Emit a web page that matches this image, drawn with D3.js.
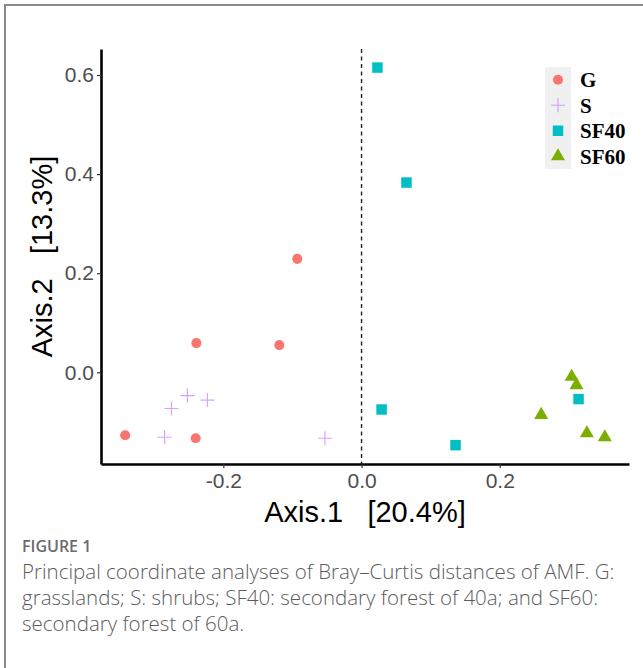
<!DOCTYPE html>
<html>
<head>
<meta charset="utf-8">
<script src="https://cdn.jsdelivr.net/npm/d3@7"></script>
<style>
  body { margin: 0; background: #fff; }
  text { white-space: pre; }
</style>
</head>
<body>
<svg id="chart" width="643" height="668"></svg>
<script>
// PCoA scores
var groups = ["G", "S", "SF40", "SF60"];
var colors = ["#F8766D", "#C77CFF", "#00BFC4", "#7CAE00"];

var axis1G = [-0.093, -0.239, -0.119, -0.342, -0.240];
var axis2G = [0.229, 0.059, 0.055, -0.127, -0.133];

var axis1S = [-0.252, -0.275, -0.223, -0.285, -0.053];
var axis2S = [-0.047, -0.073, -0.056, -0.131, -0.133];

var axis1SF40 = [0.023, 0.065, 0.029, 0.136, 0.314];
var axis2SF40 = [0.615, 0.383, -0.075, -0.147, -0.054];

var axis1SF60 = [0.304, 0.311, 0.260, 0.326, 0.352];
var axis2SF60 = [-0.009, -0.026, -0.086, -0.123, -0.131];

var xTicks = [-0.2, 0.0, 0.2];
var yTicks = [0.0, 0.2, 0.4, 0.6];

var xTitle = "Axis.1   [20.4%]";
var yTitle = "Axis.2   [13.3%]";
var captionHead = "FIGURE 1";
var captionLines = [
  "Principal coordinate analyses of Bray\u2013Curtis distances of AMF. G:",
  "grasslands; S: shrubs; SF40: secondary forest of 40a; and SF60:",
  "secondary forest of 60a."
];

var points = [];
[[axis1G, axis2G], [axis1S, axis2S], [axis1SF40, axis2SF40], [axis1SF60, axis2SF60]]
  .forEach(function (pair, gi) {
    pair[0].forEach(function (v, i) {
      points.push({ group: groups[gi], a1: v, a2: pair[1][i] });
    });
  });

var svg = d3.select("#chart");

// outer frame of the figure panel
svg.append("rect")
  .attr("x", 5).attr("y", 5)
  .attr("width", 700).attr("height", 720)
  .attr("fill", "none")
  .attr("stroke", "#8a8a8a")
  .attr("stroke-width", 2);

var margin = { top: 49, left: 101 },
  width = 528,
  height = 415;

var x = d3.scaleLinear().domain([-0.377, 0.387]).range([0, width]);
var y = d3.scaleLinear().domain([-0.185, 0.6525]).range([height, 0]);
var color = d3.scaleOrdinal().domain(groups).range(colors);

var g = svg.append("g")
  .attr("transform", "translate(" + margin.left + "," + margin.top + ")");

// dashed line at axis.1 = 0
g.append("line")
  .attr("x1", x(0)).attr("x2", x(0))
  .attr("y1", 0).attr("y2", height)
  .attr("stroke", "#222")
  .attr("stroke-width", 1.4)
  .attr("stroke-dasharray", "4,3.5");

// x axis
var xAxis = g.append("g")
  .attr("transform", "translate(0," + height + ")")
  .call(d3.axisBottom(x).tickValues(xTicks).tickFormat(d3.format(".1f")).tickSize(4).tickPadding(5).tickSizeOuter(0));

// y axis
var yAxis = g.append("g")
  .call(d3.axisLeft(y).tickValues(yTicks).tickFormat(d3.format(".1f")).tickSize(4).tickPadding(3).tickSizeOuter(0));

[xAxis, yAxis].forEach(function (ax) {
  ax.select(".domain").attr("stroke", "#000").attr("stroke-width", 2.6);
  ax.selectAll(".tick line").attr("stroke", "#333").attr("stroke-width", 1.2);
  ax.selectAll(".tick text")
    .attr("fill", "#4D4D4D")
    .style("font-family", "Liberation Sans, Arial, sans-serif")
    .style("font-size", "21px");
});
xAxis.selectAll(".tick text").text(function (d) { return d3.format(".1f")(d).replace("\u2212", "-"); });

// points
var plus = function (s) {
  return "M" + (-s) + ",0L" + s + ",0M0," + (-s) + "L0," + s;
};

function drawMark(sel, grp) {
  if (grp === "S") {
    sel.append("path").attr("d", plus(7))
      .attr("fill", "none")
      .attr("stroke", color(grp))
      .attr("stroke-opacity", 0.7)
      .attr("stroke-width", 1.2);
  } else {
    var type = grp === "G" ? d3.symbolCircle : grp === "SF40" ? d3.symbolSquare : d3.symbolTriangle;
    var size = grp === "G" ? 80 : grp === "SF40" ? 110 : 85;
    sel.append("path").attr("d", d3.symbol().type(type).size(size)())
      .attr("fill", color(grp));
  }
}

g.selectAll(".pt")
  .data(points)
  .enter()
  .append("g")
  .attr("class", "pt")
  .attr("transform", function (d) { return "translate(" + x(d.a1) + "," + y(d.a2) + ")"; })
  .each(function (d) { drawMark(d3.select(this), d.group); });

// axis titles
svg.append("text")
  .attr("x", margin.left + width / 2)
  .attr("y", 522)
  .attr("text-anchor", "middle")
  .style("font-family", "Liberation Sans, Arial, sans-serif")
  .style("font-size", "29px")
  .text(xTitle);

svg.append("text")
  .attr("transform", "translate(52," + (margin.top + height / 2) + ") rotate(-90)")
  .attr("text-anchor", "middle")
  .style("font-family", "Liberation Sans, Arial, sans-serif")
  .style("font-size", "29px")
  .text(yTitle);

// legend
var legend = svg.append("g").attr("transform", "translate(545,67)");
var keyH = 25.5;
legend.append("rect")
  .attr("width", 26)
  .attr("height", keyH * groups.length)
  .attr("fill", "#F0F0F0");

var item = legend.selectAll(".key")
  .data(groups)
  .enter()
  .append("g")
  .attr("class", "key")
  .attr("transform", function (d, i) { return "translate(0," + (i * keyH + keyH / 2) + ")"; });

item.append("g")
  .attr("transform", "translate(13,0)")
  .each(function (d) { drawMark(d3.select(this), d); });

item.append("text")
  .attr("x", 35)
  .attr("dy", "0.35em")
  .style("font-family", "Liberation Serif, Times New Roman, serif")
  .style("font-weight", "bold")
  .style("font-size", "21px")
  .text(function (d) { return d; });

// caption
svg.append("text")
  .attr("x", 22)
  .attr("y", 552)
  .attr("fill", "#6b6b6b")
  .style("font-family", "Open Sans, sans-serif")
  .style("font-weight", "600")
  .style("font-size", "16px")
  .text(captionHead);

svg.selectAll(".cap")
  .data(captionLines)
  .enter()
  .append("text")
  .attr("class", "cap")
  .attr("x", 22)
  .attr("y", function (d, i) { return 579 + i * 26; })
  .attr("fill", "#5c5c5c")
  .style("font-family", "Open Sans, sans-serif")
  .style("font-weight", "300")
  .style("font-size", "20.5px")
  .text(function (d) { return d; });
</script>
</body>
</html>
